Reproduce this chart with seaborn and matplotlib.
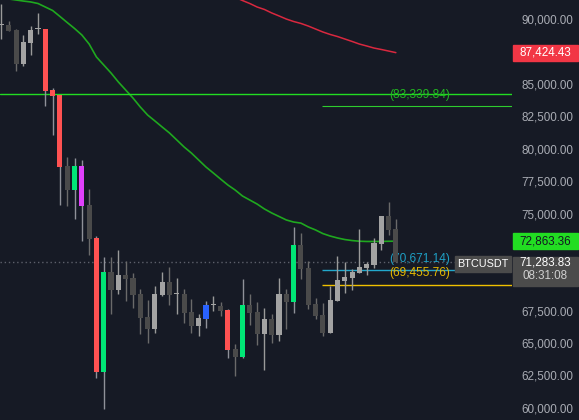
import numpy as np
import pandas as pd
import seaborn as sns
import matplotlib.pyplot as plt
import matplotlib.transforms as mtransforms
from matplotlib.patches import Rectangle

# BTCUSDT candles, oldest -> newest
opens = [89560, 89560, 89174, 86548, 88170, 89251, 89251, 84539, 84153, 78669,
         76815, 78669, 75656, 73107, 62758, 70481, 69091, 70250, 70018, 68782,
         67006, 66079, 68705, 69709, 68782, 68782, 67392, 66311, 66851, 67933,
         67856, 67547, 64534, 63916, 67933, 67392, 65693, 66851, 65616, 68782,
         68165, 72567, 70791, 68010, 67160, 65770, 68242, 69787, 70018, 70404,
         70791, 71022, 72644, 74807, 73803]
highs = [91182, 89869, 89251, 88788, 89483, 90487, 89251, 84694, 84153, 79364,
         79287, 79132, 76892, 73262, 71640, 71640, 72181, 71331, 70404, 69168,
         68319, 69400, 70481, 70868, 70018, 69168, 68396, 67237, 68242, 68628,
         68165, 67624, 64920, 69941, 68782, 68165, 67701, 67237, 70018, 69168,
         73958, 73494, 71331, 68473, 68087, 69400, 71718, 71254, 70713, 73803,
         71254, 73107, 74807, 75889, 74575]
lows = [88479, 89097, 86007, 86393, 87243, 88865, 83303, 81063, 75656, 75579,
        74575, 72876, 71795, 62294, 59899, 67237, 68782, 68242, 67701, 65693,
        64998, 65770, 68628, 67933, 67237, 66542, 65770, 65538, 66156, 67469,
        67083, 63839, 62449, 63839, 66388, 64843, 62912, 64998, 65152, 66079,
        67315, 69941, 67624, 66851, 65538, 65770, 68242, 68860, 69091, 70404,
        70250, 70791, 72181, 73340, 71283.83]
closes = [89560, 89097, 86548, 88247, 89174, 89251, 84462, 84076, 78592, 76815,
          78669, 75579, 73031, 62758, 70481, 69091, 70250, 69941, 68705, 66928,
          66079, 68782, 69709, 68705, 68782, 67315, 66311, 66928, 67933, 67933,
          67469, 64457, 63916, 67933, 67315, 65693, 66851, 65616, 68782, 68165,
          72567, 70713, 67933, 67083, 65770, 68319, 69864, 70096, 70482, 70868,
          71100, 72722, 74807, 73726, 71283.83]
# candle colouring: L light, D dark, R red, G green, M magenta, B blue
kinds = ["L", "D", "D", "L", "L", "L", "R", "R", "R", "D",
         "G", "M", "D", "R", "G", "D", "L", "D", "D", "D",
         "D", "L", "L", "D", "L", "D", "D", "L", "B", "L",
         "D", "R", "D", "G", "D", "D", "L", "D", "L", "D",
         "G", "D", "D", "D", "D", "L", "L", "L", "L", "L",
         "L", "L", "L", "D", "D"]

# moving averages
ma_fast = [91700, 91570, 91490, 91410, 91340, 91220, 90950, 90680, 90220, 89750,
           89290, 88790, 88090, 87090, 86470, 85850, 85160, 84540, 83920, 83230,
           82610, 82150, 81680, 81220, 80680, 80140, 79670, 79130, 78590, 78130,
           77660, 77200, 76810, 76350, 76040, 75730, 75350, 75040, 74770, 74500,
           74340, 74260, 73960, 73730, 73450, 73260, 73110, 72990, 72910, 72860,
           72840, 72840, 72845, 72855, 72863.36]
ma_slow = [np.nan] * 31 + [
           91950, 91700, 91450, 91220, 90950, 90760, 90490, 90260, 90020,
           89830, 89680, 89480, 89250, 89020, 88830, 88670, 88480, 88290, 88090,
           87940, 87780, 87670, 87550, 87424.43]

level_line = 84200
take_profit = 83339.84
entry = 70671.14
stop = 69455.76
last_price = 71283.83
countdown = "08:31:08"
price_ticks = [90000, 85000, 82500, 80000, 77500, 75000, 67500, 65000, 62500, 60000]

BG = "#161a25"
body_col = {"L": "#a3a3a3", "D": "#4a4a4a", "R": "#ff5252", "G": "#00e676",
            "M": "#e040fb", "B": "#2962ff"}
wick_col = {"L": "#9a9a9a", "D": "#6a6a6a", "R": "#8f9199", "G": "#8f9199",
            "M": "#8f9199", "B": "#8f9199"}

sns.set_style("dark", {"axes.facecolor": BG, "figure.facecolor": BG})
plt.rcParams['font.family'] = ['Liberation Sans', 'DejaVu Sans']

fig = plt.figure(figsize=(5.79, 4.2), dpi=100)
ax = fig.add_axes([0, 0, 512 / 579, 1])
ax.set_facecolor(BG)

YMIN, YMAX = 59050, 91491
PX = (YMAX - YMIN) / 420.0  # price per pixel
XMAX = 69.9

df = pd.DataFrame({"idx": np.arange(len(opens)), "o": opens, "h": highs,
                   "l": lows, "c": closes, "kind": kinds,
                   "fast": ma_fast, "slow": ma_slow})

# moving averages
sns.lineplot(data=df, x="idx", y="fast", color="#1fa81f", lw=1.2, ax=ax, zorder=2)
sns.lineplot(data=df.dropna(subset=["slow"]), x="idx", y="slow", color="#d9283f",
             lw=1.1, ax=ax, zorder=2)

# levels
ax.axhline(level_line, color="#22dd22", lw=1.0, zorder=2)
ax.hlines(take_profit, 43.87, XMAX, color="#2ecc2e", lw=0.8, zorder=2)
ax.hlines(entry, 43.87, XMAX, color="#22a8cc", lw=1.0, zorder=2)
ax.hlines(stop, 43.87, XMAX, color="#f0c000", lw=1.0, zorder=2)
ax.axhline(last_price, color="#5d606b", lw=1.0, ls=(0, (1, 2)), zorder=1)

for val, col, dy in [(take_profit, "#22b822", 10.5), (entry, "#1e9fc4", 10.5),
                     (stop, "#e6b800", 12)]:
    ax.annotate(f"({val:,.2f})", (53.05, val), xytext=(0, dy),
                textcoords="offset pixels", color=col, fontsize=8.6,
                ha="left", va="center", zorder=3)

# candles
body_lo = np.minimum(df["o"], df["c"])
body_h = np.maximum(np.abs(df["c"] - df["o"]), 1.0 * PX)
ax.vlines(df["idx"], df["l"], df["h"], colors=[wick_col[k] for k in kinds],
          lw=1.0, zorder=4)
ax.bar(df["idx"], body_h, bottom=body_lo, width=0.7,
       color=[body_col[k] for k in kinds], linewidth=0, zorder=5)

ax.set_xlim(-0.205, XMAX)
ax.set_ylim(YMIN, YMAX)
ax.set_xlabel("")
ax.set_ylabel("")
ax.set_xticks([])
ax.grid(False)
for s in ax.spines.values():
    s.set_visible(False)

ax.yaxis.tick_right()
ax.set_yticks(price_ticks)
ax.set_yticklabels([f"{t:,.2f}" for t in price_ticks])
ax.tick_params(axis="y", length=0, pad=6.5, labelsize=8.4, labelcolor="#a9acb4")

# price scale badges
trans = mtransforms.blended_transform_factory(fig.transFigure, ax.transData)
bx, bw = 513 / 579, 65 / 579
red_val = ma_slow[-1]
green_val = ma_fast[-1]
ax.add_patch(Rectangle((bx, red_val - 8 * PX), bw, 16 * PX, transform=trans,
                       color="#f23645", clip_on=False, zorder=10))
ax.text(bx + bw / 2, red_val, f"{red_val:,.2f}", transform=trans, ha="center",
        va="center", color="white", fontsize=8.4, zorder=11)
ax.add_patch(Rectangle((bx, green_val - 8 * PX), bw, 16 * PX, transform=trans,
                       color="#22dd22", clip_on=False, zorder=10))
ax.text(bx + bw / 2, green_val, f"{green_val:,.2f}", transform=trans,
        ha="center", va="center", color="#131722", fontsize=8.4, zorder=11)
ax.add_patch(Rectangle((bx, last_price - 24 * PX), bw, 29 * PX, transform=trans,
                       color="#4b4b4b", clip_on=False, zorder=10))
ax.text(bx + bw / 2, last_price - 1 * PX, f"{last_price:,.2f}", transform=trans,
        ha="center", va="center", color="white", fontsize=8.4, zorder=11)
ax.text(bx + bw / 2, last_price - 14 * PX, countdown, transform=trans,
        ha="center", va="center", color="#d0d0d0", fontsize=8.4, zorder=11)

# symbol tag
ax.add_patch(Rectangle((455 / 579, last_price - 10 * PX), 56 / 579, 16 * PX,
                       transform=trans, color="#4b4b4b", clip_on=False, zorder=10))
ax.text(483 / 579, last_price - 2 * PX, "BTCUSDT", transform=trans, ha="center",
        va="center", color="white", fontsize=7.8, zorder=11)

fig.savefig("out.png", dpi=100, facecolor=BG)
